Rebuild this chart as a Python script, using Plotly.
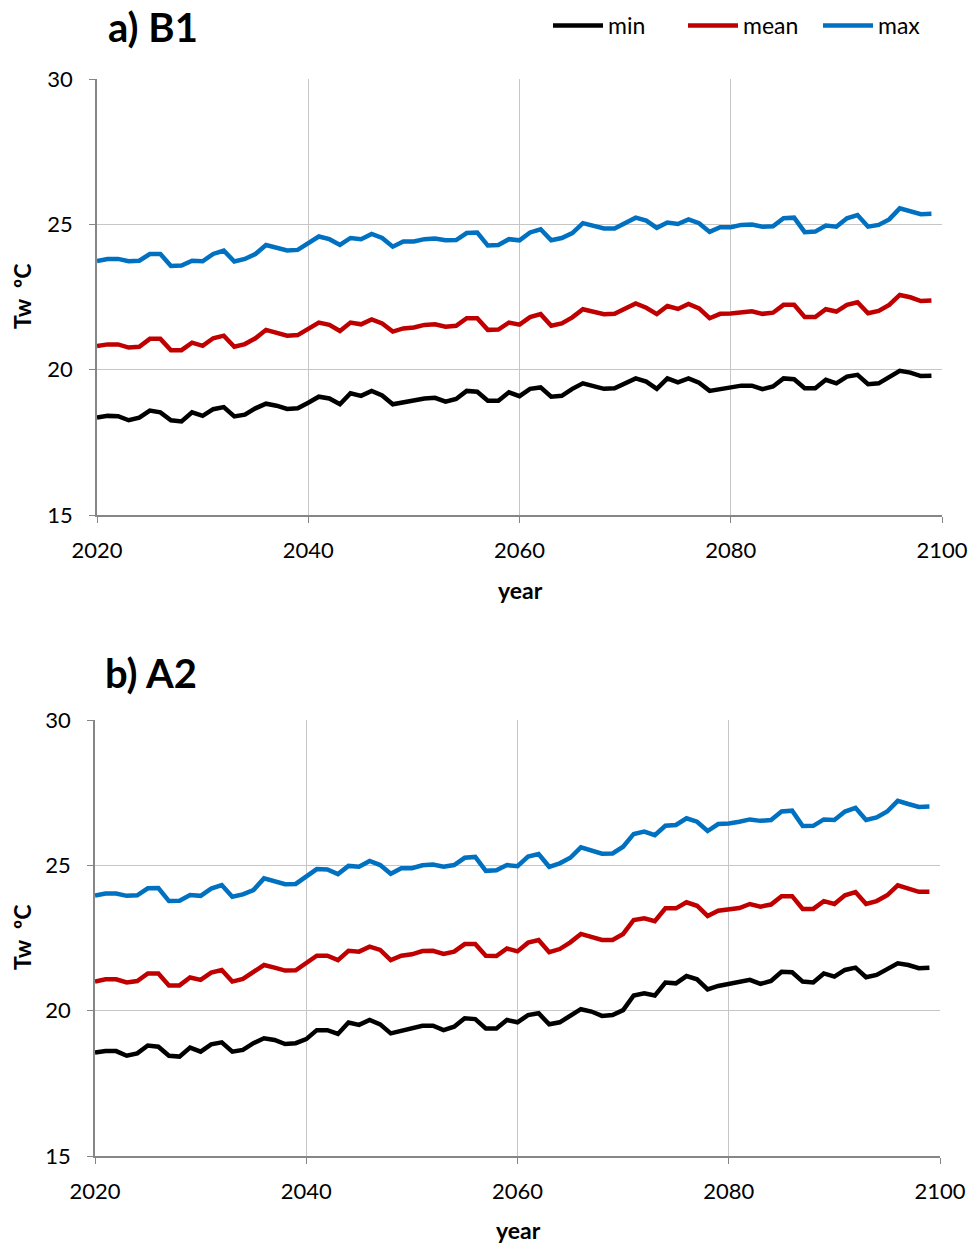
import plotly.graph_objects as go

years = list(range(2020, 2100))

# Panel a) B1
b1_min = [18.35, 18.41, 18.40, 18.26, 18.35, 18.59, 18.53, 18.26, 18.22, 18.53,
          18.41, 18.64, 18.71, 18.39, 18.45, 18.67, 18.83, 18.76, 18.65, 18.67,
          18.86, 19.07, 19.01, 18.81, 19.19, 19.10, 19.27, 19.11, 18.81, 18.88,
          18.93, 19.01, 19.03, 18.90, 18.99, 19.27, 19.24, 18.93, 18.93, 19.22,
          19.09, 19.34, 19.39, 19.07, 19.10, 19.34, 19.53, 19.45, 19.34, 19.36,
          19.55, 19.70, 19.59, 19.34, 19.70, 19.56, 19.70, 19.55, 19.27, 19.34,
          19.39, 19.45, 19.45, 19.33, 19.42, 19.70, 19.67, 19.36, 19.36, 19.65,
          19.53, 19.76, 19.82, 19.50, 19.53, 19.76, 19.96, 19.90, 19.78, 19.79]
b1_mean = [20.81, 20.87, 20.87, 20.76, 20.79, 21.06, 21.06, 20.67, 20.67, 20.93,
           20.82, 21.08, 21.17, 20.79, 20.88, 21.08, 21.37, 21.28, 21.17, 21.19,
           21.42, 21.62, 21.54, 21.33, 21.62, 21.56, 21.73, 21.59, 21.31, 21.42,
           21.45, 21.54, 21.56, 21.48, 21.51, 21.77, 21.77, 21.37, 21.38, 21.62,
           21.55, 21.81, 21.91, 21.51, 21.59, 21.80, 22.08, 22.00, 21.91, 21.92,
           22.11, 22.28, 22.13, 21.91, 22.19, 22.09, 22.26, 22.11, 21.77, 21.92,
           21.93, 21.97, 22.01, 21.92, 21.96, 22.23, 22.23, 21.81, 21.81, 22.08,
           22.00, 22.23, 22.32, 21.94, 22.02, 22.23, 22.57, 22.49, 22.36, 22.38]
b1_max = [23.74, 23.81, 23.81, 23.73, 23.75, 23.98, 23.98, 23.57, 23.58, 23.75,
          23.73, 23.98, 24.10, 23.72, 23.81, 23.98, 24.29, 24.19, 24.10, 24.12,
          24.36, 24.58, 24.49, 24.29, 24.53, 24.49, 24.67, 24.53, 24.23, 24.41,
          24.41, 24.49, 24.51, 24.45, 24.46, 24.70, 24.72, 24.27, 24.29, 24.49,
          24.45, 24.72, 24.83, 24.45, 24.53, 24.70, 25.04, 24.94, 24.86, 24.86,
          25.06, 25.23, 25.13, 24.88, 25.06, 25.01, 25.17, 25.04, 24.74, 24.90,
          24.90, 24.98, 24.99, 24.92, 24.93, 25.21, 25.23, 24.73, 24.75, 24.96,
          24.92, 25.21, 25.32, 24.92, 24.98, 25.17, 25.55, 25.46, 25.35, 25.36]

# Panel b) A2
a2_min = [18.56, 18.61, 18.61, 18.45, 18.53, 18.80, 18.76, 18.45, 18.42, 18.73,
          18.59, 18.84, 18.91, 18.59, 18.65, 18.88, 19.05, 18.99, 18.85, 18.88,
          19.02, 19.33, 19.33, 19.20, 19.59, 19.51, 19.68, 19.53, 19.22, 19.30,
          19.39, 19.48, 19.48, 19.33, 19.45, 19.74, 19.71, 19.39, 19.39, 19.68,
          19.60, 19.85, 19.91, 19.53, 19.60, 19.83, 20.05, 19.97, 19.82, 19.85,
          20.02, 20.52, 20.60, 20.52, 20.97, 20.94, 21.19, 21.08, 20.73, 20.85,
          20.91, 21.00, 21.06, 20.92, 21.02, 21.34, 21.32, 21.00, 20.97, 21.28,
          21.17, 21.40, 21.48, 21.15, 21.23, 21.43, 21.63, 21.57, 21.46, 21.48]
a2_mean = [21.00, 21.08, 21.08, 20.97, 21.02, 21.28, 21.28, 20.87, 20.87, 21.14,
           21.06, 21.31, 21.40, 21.00, 21.09, 21.31, 21.57, 21.48, 21.38, 21.39,
           21.63, 21.89, 21.89, 21.74, 22.06, 22.03, 22.20, 22.09, 21.74, 21.89,
           21.94, 22.05, 22.06, 21.95, 22.03, 22.29, 22.29, 21.89, 21.88, 22.14,
           22.04, 22.34, 22.43, 22.01, 22.12, 22.35, 22.64, 22.55, 22.43, 22.43,
           22.64, 23.12, 23.18, 23.08, 23.52, 23.52, 23.73, 23.61, 23.26, 23.44,
           23.47, 23.53, 23.67, 23.58, 23.65, 23.94, 23.94, 23.50, 23.50, 23.77,
           23.67, 23.97, 24.08, 23.67, 23.77, 23.97, 24.31, 24.21, 24.09, 24.09]
a2_max = [23.96, 24.03, 24.03, 23.95, 23.97, 24.21, 24.22, 23.77, 23.78, 23.98,
          23.95, 24.20, 24.32, 23.92, 24.00, 24.15, 24.55, 24.44, 24.35, 24.36,
          24.60, 24.87, 24.86, 24.70, 24.98, 24.95, 25.15, 25.01, 24.71, 24.90,
          24.90, 25.00, 25.03, 24.95, 25.01, 25.26, 25.29, 24.81, 24.83, 25.01,
          24.97, 25.30, 25.39, 24.95, 25.07, 25.26, 25.62, 25.50, 25.40, 25.41,
          25.64, 26.08, 26.16, 26.04, 26.36, 26.39, 26.62, 26.50, 26.18, 26.42,
          26.44, 26.50, 26.58, 26.53, 26.56, 26.85, 26.88, 26.35, 26.36, 26.58,
          26.56, 26.85, 26.98, 26.56, 26.65, 26.85, 27.22, 27.11, 27.01, 27.02]

series_names = ["min", "mean", "max"]
colors = ["#000000", "#C00000", "#0070C0"]
panel_titles = ["a) B1", "b) A2"]
x_ticks = [2020, 2040, 2060, 2080, 2100]
y_ticks = [15, 20, 25, 30]

FONT = "Lato, 'Open Sans', sans-serif"
W, H = 974, 1247

fig = go.Figure()

panels = [(b1_min, b1_mean, b1_max), (a2_min, a2_mean, a2_max)]
axes = [("x", "y"), ("x2", "y2")]
for p, data in enumerate(panels):
    for s, vals in enumerate(data):
        fig.add_trace(go.Scatter(
            x=years, y=vals, mode="lines", name=series_names[s],
            line=dict(color=colors[s], width=4.5),
            xaxis=axes[p][0], yaxis=axes[p][1],
            showlegend=(p == 0), legendgroup=series_names[s]))

def px_x(v):
    return v / W

def px_y(v):
    return 1 - v / H

axis_common = dict(
    showgrid=True, gridcolor="#C6C6C6", gridwidth=1.3,
    showline=True, linecolor="#868686", linewidth=1.5,
    ticks="outside", ticklen=6, tickcolor="#868686", tickwidth=1.3,
    tickfont=dict(family=FONT, size=22, color="#000000"),
    zeroline=False, fixedrange=True, automargin=False,
)

fig.update_layout(
    width=W, height=H,
    margin=dict(l=0, r=0, t=0, b=0, pad=0, autoexpand=False),
    paper_bgcolor="white", plot_bgcolor="white",
    font=dict(family=FONT, color="#000000"),
    xaxis=dict(domain=[px_x(97), px_x(942)], range=[2020, 2100], tickvals=x_ticks,
               anchor="y", ticklabelstandoff=9, **axis_common),
    yaxis=dict(domain=[px_y(515), px_y(79)], range=[15, 30], tickvals=y_ticks,
               anchor="x", ticklabelstandoff=12, **axis_common),
    xaxis2=dict(domain=[px_x(95), px_x(940)], range=[2020, 2100], tickvals=x_ticks,
                anchor="y2", ticklabelstandoff=9, **axis_common),
    yaxis2=dict(domain=[px_y(1156), px_y(720)], range=[15, 30], tickvals=y_ticks,
                anchor="x2", ticklabelstandoff=12, **axis_common),
    legend=dict(orientation="h", x=px_x(548), y=px_y(4), xanchor="left", yanchor="top",
                font=dict(family=FONT, size=23), bgcolor="rgba(0,0,0,0)",
                itemwidth=50, entrywidth=70, entrywidthmode="pixels",
                tracegroupgap=0, traceorder="normal"),
    showlegend=True,
)

annotations = [
    dict(text="<b>%s</b>" % panel_titles[0], x=px_x(106), y=px_y(27), xanchor="left",
         yanchor="middle", font=dict(size=40)),
    dict(text="<b>%s</b>" % panel_titles[1], x=px_x(103), y=px_y(673), xanchor="left",
         yanchor="middle", font=dict(size=40)),
    dict(text="<b>year</b>", x=px_x(520), y=px_y(590), xanchor="center",
         yanchor="middle", font=dict(size=23)),
    dict(text="<b>year</b>", x=px_x(518), y=px_y(1230), xanchor="center",
         yanchor="middle", font=dict(size=23)),
    dict(text="<b>Tw  ºC</b>", x=px_x(22), y=px_y(297), xanchor="center",
         yanchor="middle", textangle=-90, font=dict(size=23)),
    dict(text="<b>Tw  ºC</b>", x=px_x(22), y=px_y(938), xanchor="center",
         yanchor="middle", textangle=-90, font=dict(size=23)),
]
for a in annotations:
    a.update(xref="paper", yref="paper", showarrow=False)
    a["font"] = dict(family=FONT, color="#000000", size=a["font"]["size"])
fig.update_layout(annotations=annotations)

fig.write_html("out.html")
